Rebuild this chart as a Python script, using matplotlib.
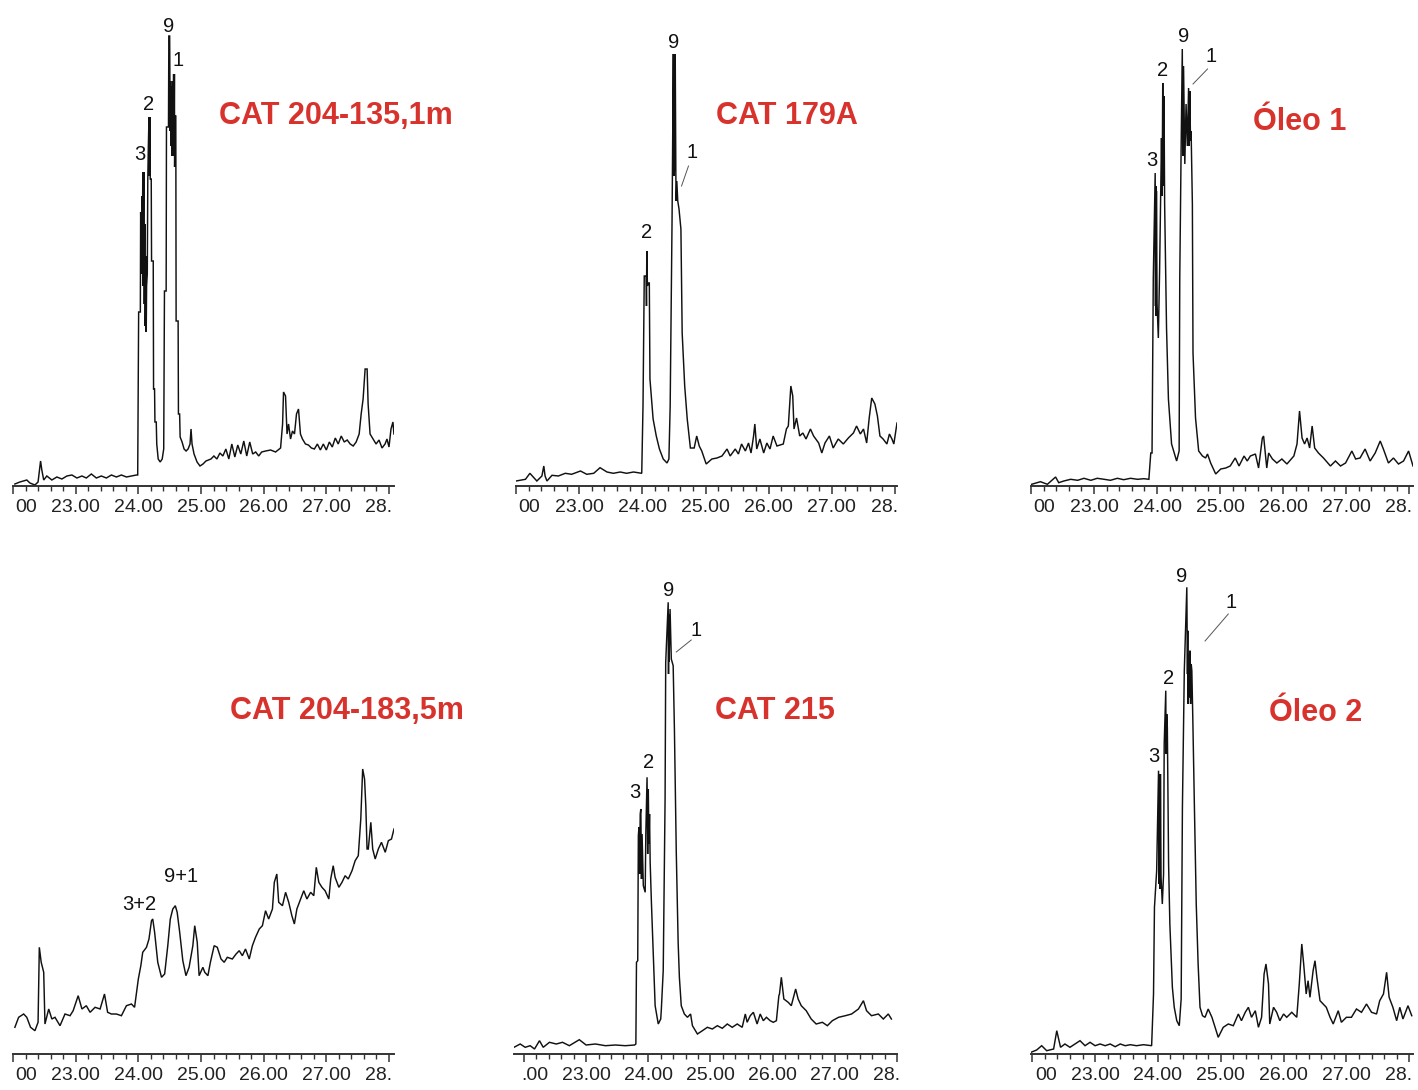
import matplotlib
matplotlib.use("Agg")
import matplotlib.pyplot as plt
from matplotlib import font_manager
from matplotlib.ticker import MultipleLocator
from matplotlib.transforms import offset_copy

plt.rcParams['font.family'] = ['Liberation Sans', 'DejaVu Sans']

# ---------------- data: (retention time [min], abundance [arb. units]) ----------------
cat204_135 = [
    (22.03, 2), (22.11, 4), (22.22, 6), (22.27, 3), (22.35, 1), (22.40, 4), (22.44, 25), (22.46, 16),
    (22.49, 6), (22.54, 10), (22.62, 6), (22.70, 9), (22.78, 7), (22.86, 10), (22.94, 11), (23.02, 8),
    (23.10, 10), (23.17, 8), (23.25, 12), (23.33, 8), (23.41, 10), (23.49, 8), (23.57, 11), (23.65, 9),
    (23.73, 11), (23.81, 9), (23.89, 10), (23.97, 11), (23.99, 11),
    (24.005, 174), (24.032, 174), (24.037, 274), (24.050, 230), (24.056, 290), (24.063, 212), (24.071, 314),
    (24.078, 200), (24.087, 314), (24.095, 182), (24.103, 262), (24.110, 160), (24.119, 230), (24.126, 154),
    (24.132, 200), (24.143, 212), (24.151, 307), (24.160, 340), (24.170, 369), (24.176, 310), (24.183, 369),
    (24.190, 307), (24.206, 307), (24.211, 225), (24.238, 225), (24.243, 97), (24.259, 97),
    (24.265, 64), (24.286, 64), (24.294, 42), (24.317, 27), (24.349, 24), (24.381, 27), (24.405, 37),
    (24.417, 195), (24.444, 195), (24.449, 359), (24.481, 359), (24.487, 450), (24.500, 450), (24.508, 355),
    (24.516, 405), (24.524, 340), (24.532, 400), (24.540, 330), (24.548, 405), (24.556, 355), (24.563, 412),
    (24.570, 330), (24.576, 412), (24.579, 319), (24.587, 370), (24.598, 370), (24.603, 165), (24.635, 165),
    (24.640, 72), (24.659, 72), (24.667, 49),
    (24.698, 44), (24.730, 37), (24.762, 35), (24.794, 37), (24.825, 42), (24.841, 57), (24.857, 42),
    (24.889, 32), (24.937, 24), (24.984, 20), (25.032, 22), (25.079, 25), (25.159, 27), (25.206, 30),
    (25.254, 27), (25.302, 33), (25.349, 30), (25.397, 37), (25.444, 27), (25.492, 42), (25.540, 29),
    (25.587, 41), (25.635, 32), (25.683, 45), (25.730, 30), (25.778, 44), (25.825, 32), (25.873, 34),
    (25.921, 30), (25.968, 34), (26.032, 35), (26.111, 36), (26.190, 34), (26.270, 38), (26.302, 62),
    (26.317, 94), (26.349, 90), (26.373, 52), (26.397, 62), (26.429, 47), (26.460, 55), (26.492, 52),
    (26.524, 72), (26.556, 77), (26.587, 52), (26.619, 47), (26.667, 42), (26.714, 41), (26.762, 38),
    (26.810, 37), (26.857, 42), (26.905, 36), (26.952, 42), (27.000, 36), (27.048, 44), (27.095, 39),
    (27.143, 48), (27.190, 42), (27.238, 50), (27.286, 44), (27.333, 46), (27.381, 42), (27.429, 40),
    (27.476, 44), (27.524, 52), (27.556, 72), (27.587, 87), (27.619, 117), (27.651, 117), (27.667, 82),
    (27.698, 52), (27.746, 47), (27.794, 42), (27.841, 46), (27.889, 38), (27.937, 42), (27.968, 47),
    (28.000, 39), (28.032, 57), (28.063, 64), (28.079, 52),
]

cat179a = [
    (22.00, 5), (22.15, 6.7), (22.22, 12.7), (22.33, 5), (22.41, 10), (22.44, 20), (22.46, 10), (22.49, 5),
    (22.57, 10.7), (22.67, 10), (22.78, 12.7), (22.88, 11.7), (23.02, 15), (23.12, 11.7), (23.23, 12.7),
    (23.33, 18.3), (23.44, 14), (23.54, 12.7), (23.65, 14), (23.75, 12.7), (23.86, 14), (23.99, 12.7),
    (24.01, 80), (24.03, 210), (24.06, 210), (24.065, 180), (24.07, 235), (24.08, 200), (24.09, 203),
    (24.11, 203), (24.12, 107),
    (24.17, 67), (24.22, 50), (24.27, 37), (24.33, 27), (24.39, 23), (24.42, 27), (24.44, 80), (24.47, 267),
    (24.49, 432), (24.495, 310), (24.50, 432), (24.505, 310), (24.51, 430), (24.515, 315), (24.52, 432),
    (24.53, 310), (24.535, 285), (24.545, 305), (24.56, 285), (24.58, 277), (24.61, 257), (24.63, 153),
    (24.67, 100), (24.71, 67), (24.76, 38), (24.82, 38), (24.86, 50), (24.90, 40), (24.94, 35), (25.01, 22),
    (25.10, 27), (25.18, 28), (25.26, 30), (25.34, 37), (25.39, 30), (25.47, 37), (25.52, 32), (25.57, 42),
    (25.63, 35), (25.68, 43), (25.72, 33), (25.76, 50), (25.78, 62), (25.81, 37), (25.86, 47), (25.92, 33),
    (25.97, 43), (26.02, 37), (26.07, 50), (26.13, 40), (26.23, 42), (26.28, 57), (26.31, 60), (26.35, 100),
    (26.38, 90), (26.40, 57), (26.44, 68), (26.49, 50), (26.54, 53), (26.59, 47), (26.66, 57), (26.71, 50),
    (26.79, 43), (26.84, 33), (26.89, 43), (26.96, 50), (27.02, 38), (27.10, 47), (27.18, 42), (27.26, 48),
    (27.34, 53), (27.39, 60), (27.45, 52), (27.50, 57), (27.55, 43), (27.59, 68), (27.63, 88), (27.68, 82),
    (27.72, 70), (27.76, 50), (27.81, 47), (27.87, 42), (27.91, 52), (27.95, 47), (27.98, 42), (28.03, 63),
]

oleo1 = [
    (22.01, 1.7), (22.15, 4.3), (22.26, 1.7), (22.39, 9), (22.44, 3.3), (22.52, 5), (22.63, 6.7), (22.74, 5.7),
    (22.84, 7.7), (22.95, 5.7), (23.05, 7.7), (23.16, 6.7), (23.26, 5.7), (23.37, 7.7), (23.47, 6.3),
    (23.58, 7.7), (23.69, 6.7), (23.79, 7.3), (23.87, 6.7), (23.90, 33), (23.92, 33), (23.94, 208),
    (23.97, 313), (23.975, 180), (23.98, 300), (23.985, 170), (23.99, 295), (24.00, 182), (24.02, 148),
    (24.04, 215), (24.07, 348), (24.08, 290), (24.09, 403), (24.10, 300), (24.11, 390), (24.12, 282),
    (24.15, 158), (24.18, 87), (24.23, 42), (24.31, 25), (24.35, 35), (24.36, 208),
    (24.38, 328), (24.40, 437), (24.41, 330), (24.42, 420), (24.44, 322), (24.46, 382), (24.48, 340),
    (24.50, 398), (24.51, 340), (24.52, 395), (24.53, 345), (24.54, 355), (24.56, 282), (24.57, 133),
    (24.61, 68), (24.66, 35), (24.72, 30), (24.77, 28),
    (24.80, 32), (24.85, 23), (24.93, 12), (25.01, 17), (25.09, 18), (25.16, 20), (25.24, 28), (25.30, 20),
    (25.38, 30), (25.43, 25), (25.48, 30), (25.56, 32), (25.61, 18), (25.67, 48), (25.69, 50), (25.74, 18),
    (25.77, 33), (25.83, 27), (25.90, 23), (25.98, 27), (26.06, 22), (26.17, 30), (26.22, 42), (26.26, 75),
    (26.30, 48), (26.34, 42), (26.38, 48), (26.42, 38), (26.46, 60), (26.50, 38), (26.56, 33), (26.64, 28),
    (26.75, 20), (26.83, 25), (26.91, 20), (26.99, 23), (27.09, 35), (27.15, 27), (27.22, 28), (27.30, 37),
    (27.38, 25), (27.46, 33), (27.54, 45), (27.59, 37), (27.67, 23), (27.75, 28), (27.83, 22), (27.91, 25),
    (27.99, 35), (28.06, 20),
]

cat204_183 = [
    (22.03, 26.7), (22.09, 36.7), (22.17, 40), (22.22, 36.7), (22.28, 26.7), (22.35, 23.3), (22.40, 31.7),
    (22.42, 106.7), (22.45, 91.7), (22.49, 81.7), (22.51, 30), (22.57, 45), (22.62, 35), (22.67, 36.7),
    (22.75, 28.3), (22.83, 40), (22.91, 38.3), (22.96, 43.3), (23.04, 58.3), (23.10, 45), (23.17, 48.3),
    (23.23, 41.7), (23.31, 46.7), (23.39, 45), (23.46, 60), (23.51, 41.7), (23.57, 40), (23.65, 40),
    (23.73, 38.3), (23.81, 48.3), (23.89, 50), (23.94, 46.7), (24.00, 75), (24.04, 88.3), (24.07, 101.7),
    (24.13, 106.7), (24.17, 115), (24.21, 133.3), (24.23, 135), (24.26, 121.7), (24.31, 91.7), (24.37, 76.7),
    (24.42, 80), (24.47, 108.3), (24.51, 135), (24.55, 145), (24.59, 148.3), (24.62, 141.7), (24.66, 121.7),
    (24.71, 93.3), (24.76, 78.3), (24.81, 86.7), (24.87, 108.3), (24.90, 128.3), (24.94, 111.7), (24.97, 78.3),
    (25.03, 86.7), (25.06, 81.7), (25.11, 78.3), (25.15, 91.7), (25.21, 108.3), (25.26, 106.7), (25.32, 95),
    (25.37, 91.7), (25.42, 96.7), (25.50, 95), (25.56, 100), (25.61, 103.3), (25.66, 98.3), (25.71, 105),
    (25.77, 95), (25.82, 108.3), (25.87, 116.7), (25.93, 125), (25.98, 128.3), (26.03, 143.3), (26.08, 135),
    (26.14, 145), (26.17, 171.7), (26.21, 180), (26.24, 151.7), (26.30, 148.3), (26.35, 161.7), (26.40, 151.7),
    (26.45, 138.3), (26.49, 130), (26.53, 145), (26.59, 155), (26.64, 163.3), (26.69, 155), (26.75, 161.7),
    (26.80, 158.3), (26.84, 186.7), (26.88, 171.7), (26.93, 166.7), (26.98, 163.3), (27.04, 155), (27.07, 175),
    (27.11, 188.3), (27.14, 176.7), (27.20, 166.7), (27.25, 171.7), (27.30, 178.3), (27.35, 175), (27.41, 183.3),
    (27.46, 193.3), (27.51, 198.3), (27.55, 235), (27.58, 285), (27.61, 275), (27.63, 248.3), (27.65, 205),
    (27.67, 205), (27.71, 231.7), (27.74, 205), (27.78, 195), (27.83, 205), (27.88, 211.7), (27.94, 201.7),
    (27.99, 213.3), (28.04, 215), (28.08, 225),
]

cat215 = [
    (21.84, 6.7), (21.94, 10), (22.02, 6.7), (22.10, 8.3), (22.17, 5), (22.25, 13.3), (22.31, 6.7),
    (22.41, 11.7), (22.52, 10), (22.62, 11.7), (22.73, 8.3), (22.89, 14.3), (23.00, 9), (23.15, 10),
    (23.31, 8.3), (23.47, 9), (23.63, 8.3), (23.78, 9), (23.80, 10), (23.81, 91.7), (23.83, 93.3),
    (23.84, 218.3), (23.85, 226.7), (23.86, 180), (23.87, 240), (23.88, 245), (23.89, 175), (23.90, 220),
    (23.92, 168.3), (23.95, 161.7), (23.96, 220), (23.98, 276.7), (23.99, 200), (24.00, 265), (24.01, 210),
    (24.02, 240), (24.03, 191.7), (24.05, 151.7), (24.08, 100),
    (24.11, 48.3), (24.16, 30), (24.20, 35), (24.21, 45), (24.24, 83.3), (24.27, 255), (24.28, 391.7),
    (24.32, 451.7), (24.325, 380), (24.33, 440), (24.335, 392), (24.35, 445), (24.37, 395), (24.40, 388.3),
    (24.42, 325), (24.45, 201.7),
    (24.48, 111.7), (24.50, 76.7), (24.53, 48.3), (24.58, 40), (24.63, 36.7), (24.68, 40), (24.71, 28.3),
    (24.79, 20), (24.87, 23.3), (24.95, 26.7), (25.03, 25), (25.11, 28.3), (25.19, 25.7), (25.27, 30),
    (25.35, 26.7), (25.43, 30), (25.51, 26.7), (25.56, 40), (25.59, 31.7), (25.64, 38.3), (25.69, 41.7),
    (25.75, 30), (25.80, 40), (25.85, 33.3), (25.90, 36.7), (25.96, 33.3), (26.01, 31.7), (26.06, 33.3),
    (26.10, 58.3), (26.11, 60), (26.14, 76.7), (26.18, 55), (26.25, 51.7), (26.30, 48.3), (26.37, 65),
    (26.41, 55), (26.46, 48.3), (26.54, 43.3), (26.62, 35), (26.70, 30), (26.80, 31.7), (26.88, 28.3),
    (26.96, 33.3), (27.06, 36.7), (27.17, 38.3), (27.27, 40), (27.38, 45), (27.46, 53.3), (27.51, 43.3),
    (27.59, 38.3), (27.70, 40), (27.78, 35), (27.86, 40), (27.91, 35),
]

oleo2 = [
    (21.98, 1.7), (22.07, 4), (22.15, 8.3), (22.23, 3.3), (22.34, 5), (22.39, 23.3), (22.42, 15), (22.45, 6.7),
    (22.52, 10), (22.60, 6.7), (22.68, 10), (22.76, 13.3), (22.84, 8.3), (22.92, 11.7), (23.00, 8.3),
    (23.08, 10), (23.16, 8.3), (23.24, 10), (23.32, 7.3), (23.40, 10), (23.48, 8.3), (23.56, 9.3),
    (23.66, 8.3), (23.77, 9.3), (23.90, 8.3), (23.93, 60), (23.945, 146.7), (23.98, 183.3), (24.01, 283.3),
    (24.02, 170), (24.03, 280), (24.035, 165), (24.04, 280), (24.05, 176.7), (24.07, 150), (24.09, 180),
    (24.10, 310), (24.125, 363.3), (24.13, 300), (24.14, 340),
    (24.15, 326.7), (24.17, 190), (24.19, 130), (24.23, 66.7), (24.26, 46.7), (24.30, 33.3), (24.34, 28.3),
    (24.37, 55), (24.39, 246.7), (24.42, 383.3), (24.46, 466.7), (24.47, 380), (24.475, 423.3), (24.48, 350),
    (24.49, 400), (24.50, 356.7), (24.51, 403.3), (24.52, 350), (24.53, 390), (24.54, 383.3),
    (24.555, 336.7), (24.58, 250), (24.61, 150), (24.64, 90),
    (24.67, 46.7), (24.71, 38.3), (24.75, 36.7), (24.80, 45), (24.86, 36.7), (24.91, 26.7), (24.96, 16.7),
    (25.04, 26.7), (25.12, 30), (25.20, 28.3), (25.28, 40), (25.33, 33.3), (25.39, 41.7), (25.44, 46.7),
    (25.49, 36.7), (25.55, 43.3), (25.60, 26.7), (25.65, 36.7), (25.69, 80), (25.72, 90), (25.76, 70),
    (25.78, 30), (25.84, 46.7), (25.89, 41.7), (25.94, 33.3), (26.00, 40), (26.05, 36.7), (26.13, 41.7),
    (26.21, 36.7), (26.25, 70), (26.29, 110), (26.32, 90), (26.36, 60), (26.39, 73.3), (26.42, 56.7),
    (26.47, 83.3), (26.50, 93.3), (26.53, 76.7), (26.58, 53.3), (26.63, 50), (26.68, 46.7), (26.74, 36.7),
    (26.79, 30), (26.87, 43.3), (26.92, 31.7), (27.00, 36.7), (27.08, 36.7), (27.16, 45), (27.24, 41.7),
    (27.32, 50), (27.40, 41.7), (27.48, 40), (27.53, 53.3), (27.59, 60), (27.64, 81.7), (27.68, 56.7),
    (27.74, 46.7), (27.80, 33.3), (27.85, 46.7), (27.90, 35), (27.98, 48.3), (28.04, 38.3),
]

sample_names = ["CAT 204-135,1m", "CAT 179A", "Óleo 1", "CAT 204-183,5m", "CAT 215", "Óleo 2"]
tick_values = [22, 23, 24, 25, 26, 27, 28]
# the screenshots show the outer tick labels cut off at the panel edges
tick_labels = ["00", "23.00", "24.00", "25.00", "26.00", "27.00", "28."]
tick_labels_cat215 = [".00", "23.00", "24.00", "25.00", "26.00", "27.00", "28."]

# peak labels: (text, time, abundance)
peaks_1 = [("9", 24.49, 460), ("1", 24.63, 425), ("2", 24.16, 382), ("3", 24.03, 332)]
peaks_2 = [("9", 24.50, 443), ("1", 24.78, 333), ("2", 24.07, 253)]
peaks_3 = [("9", 24.42, 449), ("1", 24.85, 429), ("2", 24.08, 415), ("3", 23.92, 325)]
peaks_4 = [("9+1", 24.68, 178), ("3+2", 24.02, 149)]
peaks_5 = [("9", 24.32, 464), ("1", 24.77, 424), ("2", 24.01, 292), ("3", 23.79, 262)]
peaks_6 = [("9", 24.38, 477), ("1", 25.17, 452), ("2", 24.17, 375), ("3", 23.94, 297)]


def has_font(name):
    try:
        font_manager.findfont(font_manager.FontProperties(family=name), fallback_to_default=False)
        return True
    except Exception:
        return False


if has_font('Liberation Sans Narrow'):
    TICK_FONT, TICK_SIZE = 'Liberation Sans Narrow', 15.5
else:
    TICK_FONT, TICK_SIZE = 'Liberation Sans', 14

# ---------------- layout ----------------
W, H = 1418, 1090
YSPAN = 470
RED = '#d8322d'
fig = plt.figure(figsize=(W / 100, H / 100), dpi=100)
renderer = fig.canvas.get_renderer()
probe = fig.text(0, 0, "22.00", fontsize=TICK_SIZE, family=TICK_FONT)
full_w = probe.get_window_extent(renderer).width
probe.remove()

panels = [
    dict(data=cat204_135, name=sample_names[0], px=(13, 394), base=486, xlim=(22.03, 28.08),
         title_xy=(336, 116), peaks=peaks_1, leader=None, ticks=tick_labels),
    dict(data=cat179a, name=sample_names[1], px=(516, 897), base=486, xlim=(22.00, 28.03),
         title_xy=(787, 116), peaks=peaks_2, leader=((24.62, 300), (24.73, 320)), ticks=tick_labels),
    dict(data=oleo1, name=sample_names[2], px=(1031, 1413), base=486, xlim=(22.01, 28.06),
         title_xy=(1300, 122), peaks=peaks_3, leader=((24.57, 402), (24.80, 417)), ticks=tick_labels),
    dict(data=cat204_183, name=sample_names[3], px=(13, 394), base=1054, xlim=(22.03, 28.08),
         title_xy=(347, 711), peaks=peaks_4, leader=None, ticks=tick_labels),
    dict(data=cat215, name=sample_names[4], px=(514, 897), base=1054, xlim=(21.84, 27.92),
         title_xy=(775, 711), peaks=peaks_5, leader=((24.45, 402), (24.69, 414)), ticks=tick_labels_cat215),
    dict(data=oleo2, name=sample_names[5], px=(1031, 1413), base=1054, xlim=(21.98, 28.06),
         title_xy=(1316, 713), peaks=peaks_6, leader=((24.75, 413), (25.12, 440)), ticks=tick_labels),
]

for P in panels:
    left, right = P['px']
    ax = fig.add_axes([left / W, (H - P['base']) / H, (right - left) / W, YSPAN / H])
    ax.patch.set_visible(False)
    t = [p[0] for p in P['data']]
    a = [p[1] for p in P['data']]
    ax.plot(t, a, color='#111111', lw=1.05, solid_joinstyle='miter')
    ax.set_xlim(*P['xlim'])
    ax.set_ylim(0, YSPAN)
    for s in ('left', 'right', 'top'):
        ax.spines[s].set_visible(False)
    ax.spines['bottom'].set_linewidth(1.4)
    ax.spines['bottom'].set_color('#333333')
    ax.set_yticks([])
    ax.set_xticks(tick_values)
    ax.xaxis.set_minor_locator(MultipleLocator(0.2))
    ax.tick_params(axis='x', which='major', length=6, width=1.1, color='#333333',
                   direction='out', labelbottom=False)
    ax.tick_params(axis='x', which='minor', length=3.5, width=1.0, color='#333333', direction='out')
    base_tr = ax.get_xaxis_transform()
    n = len(tick_values)
    for i, (v, s) in enumerate(zip(tick_values, P['ticks'])):
        if i == 0:
            tr, ha = offset_copy(base_tr, fig=fig, x=full_w / 2, y=-13, units='dots'), 'right'
        elif i == n - 1:
            tr, ha = offset_copy(base_tr, fig=fig, x=-full_w / 2, y=-13, units='dots'), 'left'
        else:
            tr, ha = offset_copy(base_tr, fig=fig, x=0, y=-13, units='dots'), 'center'
        ax.text(v, 0, s, transform=tr, ha=ha, va='top', fontsize=TICK_SIZE, family=TICK_FONT,
                color='#222222', clip_on=False)
    for s, pt, pa in P['peaks']:
        ax.text(pt, pa, s, ha='center', va='center', fontsize=14.5, color='#111111')
    if P['leader'] is not None:
        (x1, y1), (x2, y2) = P['leader']
        ax.plot([x1, x2], [y1, y2], color='#555555', lw=0.7)
    fig.text(P['title_xy'][0] / W, 1 - P['title_xy'][1] / H, P['name'], ha='center', va='center',
             fontsize=22, fontweight='bold', color=RED)

fig.savefig('out.png', dpi=100)
